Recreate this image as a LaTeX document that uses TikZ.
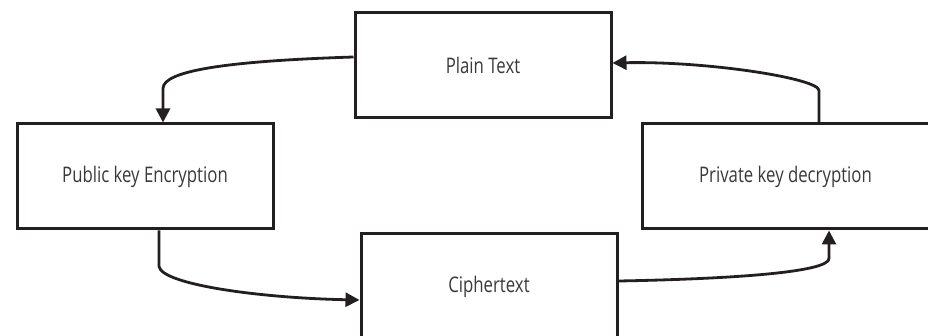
\documentclass[tikz,border=0pt]{standalone}
\usepackage{fontspec}
\setmainfont{Open Sans}[FakeStretch=0.78]
\usetikzlibrary{arrows.meta}
\definecolor{edge}{HTML}{231F20}
\definecolor{txt}{HTML}{3A3A3A}
\tikzset{
  box/.style={draw=edge, line width=3pt, fill=white, minimum width=256pt, minimum height=105pt, inner sep=0pt, text=txt, font=\fontsize{21.5}{24}\selectfont},
  conn/.style={draw=edge, line width=2.8pt, -{Triangle[length=14pt,width=14pt]}, line join=round},
}
\begin{document}
\begin{tikzpicture}[x=1pt,y=-1pt]
\useasboundingbox (0,0) rectangle (928,336);
\node[box] (plain) at (483,65) {Plain Text};
\node[box] (pub) at (145,176.5) {Public key Encryption};
\node[box, minimum width=287pt] (priv) at (785.5,176.5) {Private key decryption};
\node[box, minimum height=106pt] (ciph) at (489,287) {Ciphertext};
% Plain -> Public
\draw[conn] ([yshift=8pt]plain.west) .. controls +(-125,4) and +(0,-18) .. ([xshift=18pt,yshift=34pt]pub.north) -- ([xshift=18pt]pub.north);
% Public -> Cipher
\draw[conn] ([xshift=14pt]pub.south) -- ([xshift=14pt,yshift=-36pt]pub.south) .. controls +(3,18) and +(-100,-2) .. ([yshift=-13pt]ciph.west);
% Cipher -> Private
\draw[conn] ([yshift=6pt]ciph.east) .. controls +(110,-2) and +(0,14) .. ([xshift=43.5pt,yshift=-28pt]priv.south) -- ([xshift=43.5pt]priv.south);
% Private -> Plain
\draw[conn] ([xshift=33.5pt]priv.north) -- ([xshift=33.5pt,yshift=32pt]priv.north) .. controls +(0,-12) and +(95,-2) .. ([yshift=2pt]plain.east);
\end{tikzpicture}
\end{document}
